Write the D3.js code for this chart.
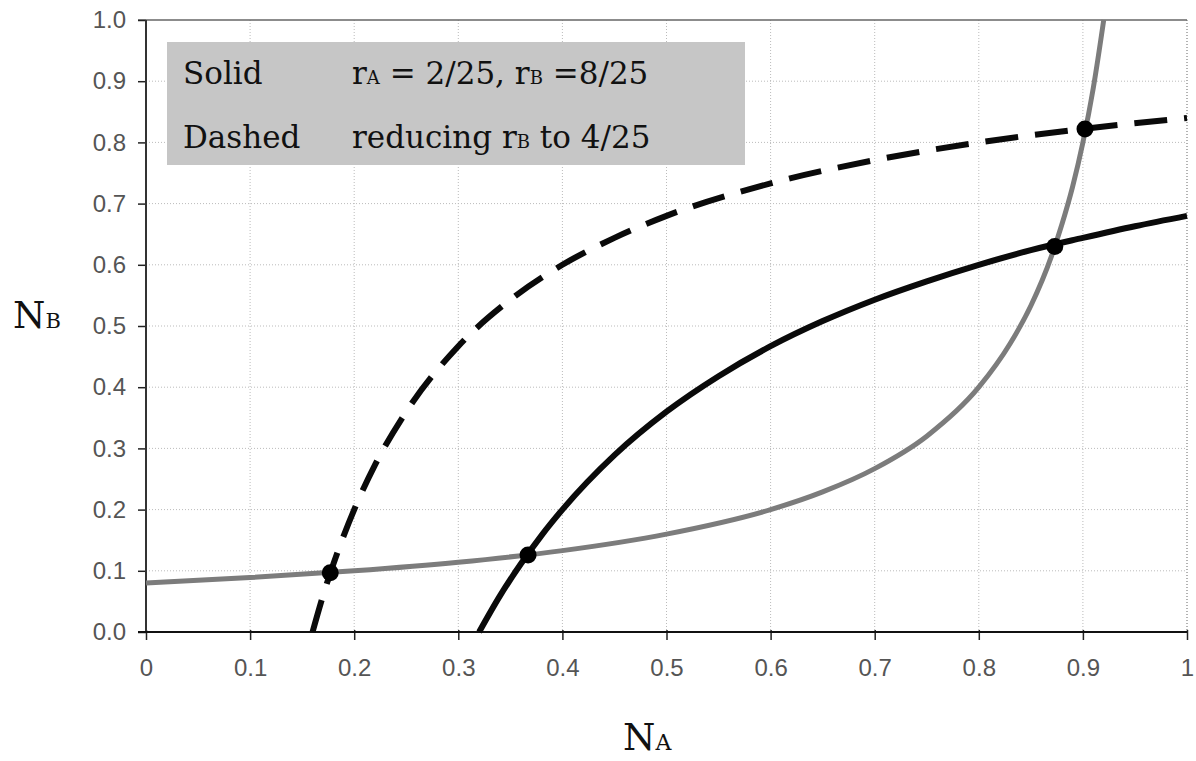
<!DOCTYPE html>
<html>
<head>
<meta charset="utf-8">
<script src="https://cdn.jsdelivr.net/npm/d3@7"></script>
<style>
  body { margin: 0; background: #fff; }
  svg { display: block; }
</style>
</head>
<body>
<svg id="chart"></svg>
<script>
// values
var tickValues = [0, 0.1, 0.2, 0.3, 0.4, 0.5, 0.6, 0.7, 0.8, 0.9, 1];

// grey curve
var greyNA = [0, 0.1, 0.2, 0.3, 0.4, 0.5, 0.6, 0.65, 0.7, 0.75, 0.8, 0.83, 0.85, 0.87, 0.88, 0.89, 0.9, 0.91, 0.92];
var greyNB = [0.080, 0.089, 0.100, 0.114, 0.133, 0.160, 0.200, 0.229, 0.267, 0.320, 0.400, 0.471, 0.533, 0.615, 0.667, 0.727, 0.800, 0.889, 1.0];

// solid black curve
var solidNA = [0.32, 0.34, 0.36, 0.38, 0.4, 0.45, 0.5, 0.55, 0.6, 0.65, 0.7, 0.75, 0.8, 0.85, 0.9, 0.95, 1];
var solidNB = [0, 0.059, 0.111, 0.158, 0.2, 0.289, 0.36, 0.418, 0.467, 0.508, 0.543, 0.573, 0.6, 0.624, 0.644, 0.663, 0.68];

// dashed curve
var dashNA = [0.16, 0.17, 0.18, 0.2, 0.22, 0.25, 0.3, 0.35, 0.4, 0.45, 0.5, 0.6, 0.7, 0.8, 0.9, 1];
var dashNB = [0, 0.059, 0.111, 0.2, 0.273, 0.36, 0.467, 0.543, 0.6, 0.644, 0.68, 0.733, 0.771, 0.8, 0.822, 0.84];

// intersection points
var dotNA = [0.177, 0.367, 0.873, 0.902];
var dotNB = [0.097, 0.126, 0.630, 0.822];

var width = 1196;
var height = 761;

var svg = d3.select("#chart")
            .attr("width", width)
            .attr("height", height);

var x = d3.scaleLinear().domain([0, 1]).range([146, 1187]);
var y = d3.scaleLinear().domain([0, 1]).range([632, 20]);

// grid
var grid = svg.append("g");
grid.selectAll(".vg")
    .data(tickValues.slice(1))
    .enter()
    .append("line")
    .attr("x1", function(d){ return x(d); })
    .attr("x2", function(d){ return x(d); })
    .attr("y1", y(1))
    .attr("y2", y(0))
    .attr("stroke", function(d){ return d === 1 ? "#999" : "#bbb"; })
    .attr("stroke-width", function(d){ return d === 1 ? 1.5 : 1; })
    .attr("stroke-dasharray", "1,2");

grid.selectAll(".hg")
    .data(tickValues.slice(1, 10))
    .enter()
    .append("line")
    .attr("x1", x(0))
    .attr("x2", x(1))
    .attr("y1", function(d){ return y(d); })
    .attr("y2", function(d){ return y(d); })
    .attr("stroke", "#bbb")
    .attr("stroke-width", 1)
    .attr("stroke-dasharray", "1,2");

// top border
svg.append("line")
   .attr("x1", x(0) - 8).attr("x2", x(1))
   .attr("y1", y(1)).attr("y2", y(1))
   .attr("stroke", "#666").attr("stroke-width", 1.5);

// legend box
var legend = svg.append("g");
legend.append("rect")
      .attr("x", 167).attr("y", 42)
      .attr("width", 578).attr("height", 123)
      .attr("fill", "#c6c6c6");

var serif = "'DejaVu Serif', 'Liberation Serif', serif";

legend.append("text")
      .attr("x", 183).attr("y", 84)
      .attr("font-family", serif).attr("font-size", 31).attr("fill", "#111")
      .text("Solid");
legend.append("text")
      .attr("x", 183).attr("y", 148)
      .attr("font-family", serif).attr("font-size", 31).attr("fill", "#111")
      .text("Dashed");

var l1 = legend.append("text")
      .attr("x", 352).attr("y", 84)
      .attr("font-family", serif).attr("font-size", 31).attr("fill", "#111");
l1.append("tspan").text("r");
l1.append("tspan").attr("font-size", 18).text("A");
l1.append("tspan").text(" = 2/25, r");
l1.append("tspan").attr("font-size", 18).text("B");
l1.append("tspan").text(" =8/25");

var l2 = legend.append("text")
      .attr("x", 352).attr("y", 148)
      .attr("font-family", serif).attr("font-size", 31).attr("fill", "#111");
l2.append("tspan").text("reducing r");
l2.append("tspan").attr("font-size", 18).text("B");
l2.append("tspan").text(" to 4/25");

// axes
var xAxis = d3.axisBottom(x)
              .tickValues(tickValues)
              .tickSize(8)
              .tickPadding(19)
              .tickFormat(function(d){ return (d === 0 || d === 1) ? String(d) : d3.format(".1f")(d); });

var yAxis = d3.axisLeft(y)
              .tickValues(tickValues)
              .tickSize(8)
              .tickPadding(12)
              .tickFormat(d3.format(".1f"));

var gx = svg.append("g")
            .attr("transform", "translate(0," + y(0) + ")")
            .call(xAxis);
var gy = svg.append("g")
            .attr("transform", "translate(" + x(0) + ",0)")
            .call(yAxis);

[gx, gy].forEach(function(g){
  g.select(".domain").remove();
  g.selectAll(".tick line").attr("stroke", "#222").attr("stroke-width", 1.5);
  g.selectAll(".tick text")
   .attr("font-family", "'Liberation Sans', Arial, sans-serif")
   .attr("font-size", 24)
   .attr("fill", "#555");
});
gx.selectAll(".tick line").attr("y1", -2);

// axis lines
svg.append("line")
   .attr("x1", x(0)).attr("x2", x(0))
   .attr("y1", y(1)).attr("y2", y(0))
   .attr("stroke", "#333").attr("stroke-width", 2);
svg.append("line")
   .attr("x1", x(0) - 8).attr("x2", x(1))
   .attr("y1", y(0)).attr("y2", y(0))
   .attr("stroke", "#111").attr("stroke-width", 2);

// curves
var line = d3.line()
             .x(function(d){ return x(d[0]); })
             .y(function(d){ return y(d[1]); })
             .curve(d3.curveMonotoneX);

var drawCurve = function(xs, ys, color, w, dash){
  var pts = xs.map(function(v, i){ return [v, ys[i]]; });
  svg.append("path")
     .datum(pts)
     .attr("d", line)
     .attr("fill", "none")
     .attr("stroke", color)
     .attr("stroke-width", w)
     .attr("stroke-dasharray", dash);
}

drawCurve(greyNA, greyNB, "#7c7c7c", 5, null);
drawCurve(solidNA, solidNB, "#0a0a0a", 6, null);
drawCurve(dashNA, dashNB, "#0a0a0a", 6, "33,17");

svg.selectAll("circle")
   .data(dotNA)
   .enter()
   .append("circle")
   .attr("cx", function(d){ return x(d); })
   .attr("cy", function(d, i){ return y(dotNB[i]); })
   .attr("r", 8.5)
   .attr("fill", "#000");

// axis titles
var yt = svg.append("text")
            .attr("x", 13).attr("y", 328)
            .attr("font-family", serif).attr("fill", "#111");
yt.append("tspan").attr("font-size", 37).text("N");
yt.append("tspan").attr("font-size", 21).text("B");

var xt = svg.append("text")
            .attr("x", 623).attr("y", 750)
            .attr("font-family", serif).attr("fill", "#111");
xt.append("tspan").attr("font-size", 37).text("N");
xt.append("tspan").attr("font-size", 22).text("A");
</script>
</body>
</html>
